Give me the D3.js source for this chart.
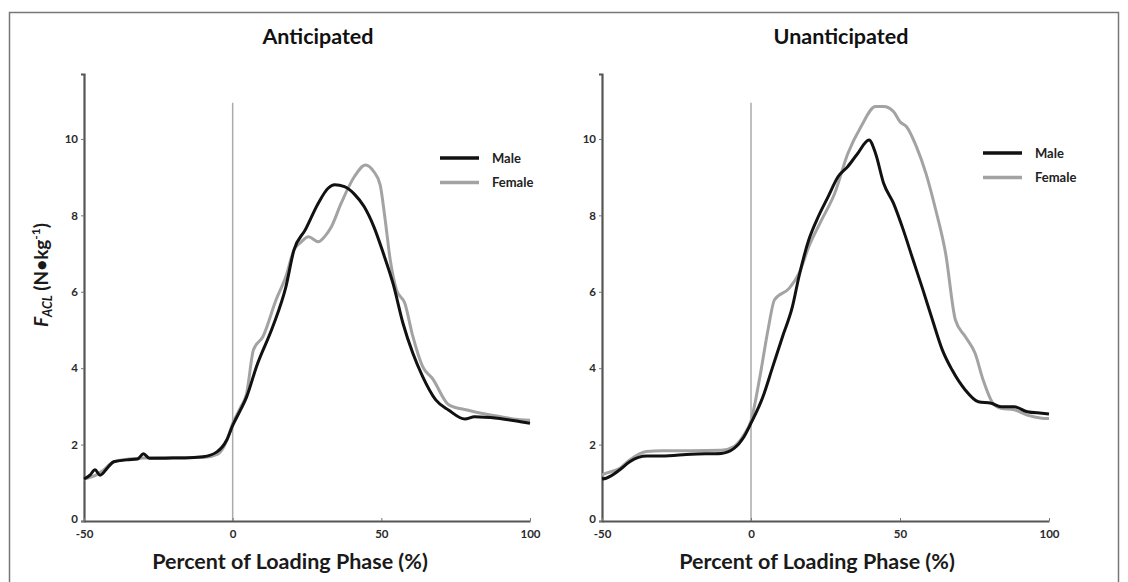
<!DOCTYPE html>
<html>
<head>
<meta charset="utf-8">
<script src="https://cdn.jsdelivr.net/npm/d3@7"></script>
<style>
  body { margin: 0; background: #fff; }
  text { font-family: Lato, "Open Sans", sans-serif; }
</style>
</head>
<body>
<div id="chart"></div>
<script>
// values (x = % of loading phase, y = N/kg)
const xTicks = [-50, 0, 50, 100];
const yTicks = [0, 2, 4, 6, 8, 10];
const panelTitles = ["Anticipated", "Unanticipated"];
const seriesNames = ["Male", "Female"];

const antMale = [[-50,1.1],[-48,1.2],[-46.3,1.34],[-44.6,1.2],[-42,1.4],[-40,1.55],[-35.6,1.6],[-32,1.62],[-30,1.76],[-28,1.64],[-25,1.64],[-20,1.65],[-16,1.65],[-10,1.68],[-5.3,1.81],[-2,2.12],[0,2.5],[2.6,2.9],[4.7,3.25],[8,4.04],[13.5,5.09],[17.9,6.13],[20.6,7.09],[24.4,7.62],[28.8,8.32],[32.1,8.71],[34.3,8.8],[37.6,8.75],[41,8.55],[44.2,8.23],[47.5,7.7],[50.7,7.0],[54,6.2],[57.3,5.17],[60.6,4.39],[63.9,3.78],[68.3,3.17],[72.7,2.9],[78.1,2.67],[81.4,2.73],[89,2.69],[96.8,2.6],[100,2.56]];
const antFemale = [[-50,1.1],[-46,1.2],[-44,1.3],[-40,1.55],[-35,1.62],[-30,1.65],[-20,1.66],[-10,1.66],[-5,1.75],[-2,2.1],[0,2.55],[2.5,2.95],[4.7,3.34],[7,4.48],[10.2,4.83],[14.6,5.79],[17.9,6.4],[20.6,7.09],[23,7.3],[25.5,7.44],[28.8,7.31],[31,7.45],[33.2,7.7],[36.5,8.32],[40.9,9.01],[44.7,9.32],[47.5,9.14],[49.6,8.8],[51.3,7.88],[53,6.83],[55.1,6.05],[57.9,5.7],[60.6,4.83],[63.9,4.04],[67.2,3.73],[72.7,3.04],[79.2,2.9],[83.6,2.82],[90.2,2.73],[96.8,2.65],[100,2.64]];
const unMale = [[-50,1.1],[-48.6,1.12],[-44,1.34],[-40.7,1.55],[-35,1.7],[-30,1.7],[-20,1.75],[-10,1.77],[-5.7,1.9],[-2.4,2.2],[0,2.56],[4,3.25],[7.3,4.04],[10.6,4.83],[13.9,5.61],[16.1,6.4],[19.4,7.36],[22.6,7.97],[25.9,8.49],[29.2,9.01],[32.5,9.28],[35.8,9.62],[39.6,9.97],[41.8,9.62],[44.5,8.84],[47.8,8.32],[51.1,7.62],[54.4,6.83],[57.7,6.05],[60.9,5.26],[64.2,4.48],[67.5,3.95],[71.9,3.43],[76.3,3.12],[80.6,3.08],[83.9,2.99],[88.3,2.99],[92.7,2.86],[97.6,2.82],[100,2.8]];
const unFemale = [[-50,1.2],[-48.6,1.25],[-44,1.38],[-40.7,1.6],[-35,1.82],[-30,1.84],[-20,1.84],[-10,1.85],[-5.7,1.95],[-2.4,2.25],[0,2.62],[3,3.78],[5.7,5.0],[7.9,5.79],[12.8,6.09],[16.1,6.48],[19.4,7.18],[23.7,7.88],[28.1,8.58],[32.5,9.62],[36.9,10.32],[41.8,10.85],[44.5,10.85],[47.8,10.72],[50,10.45],[52.2,10.32],[55.5,9.8],[58.7,9.1],[62,8.14],[65.3,7.01],[68.6,5.26],[71.9,4.83],[75.2,4.39],[77.9,3.69],[81.2,3.08],[83.9,2.95],[88.3,2.91],[92.7,2.77],[97.6,2.69],[100,2.68]];

const W = 1128, H = 582;
const colors = { Male: "#111", Female: "#a3a3a3" };

const svg = d3.select("#chart").append("svg")
    .attr("width", W)
    .attr("height", H);

// outer frame
svg.append("rect")
    .attr("x", 9.5).attr("y", 12.5)
    .attr("width", 1109).attr("height", 600)
    .attr("fill", "none")
    .attr("stroke", "#777")
    .attr("stroke-width", 1.5);

const panels = [
    { title: panelTitles[0], left: 84, right: 530, titleX: 318, labelX: 290, legX: 440, legY: 158, data: [antMale, antFemale] },
    { title: panelTitles[1], left: 602, right: 1049, titleX: 841, labelX: 817, legX: 983, legY: 153, data: [unMale, unFemale] }
];

const y = d3.scaleLinear().domain([0, 11.7]).range([521, 74]);
const plain = d => String(d); // hyphen minus like the source

panels.forEach(p => {
    const g = svg.append("g");
    const x = d3.scaleLinear().domain([-50, 100]).range([p.left, p.right]);

    // zero line (start of loading phase)
    g.append("line")
        .attr("x1", x(0)).attr("x2", x(0))
        .attr("y1", y(0)).attr("y2", y(10.95))
        .attr("stroke", "#aaa")
        .attr("stroke-width", 1.5);

    const yAxis = g.append("g")
        .attr("transform", `translate(${x(-50)},0)`)
        .call(d3.axisLeft(y).tickValues(yTicks).tickFormat(plain).tickSize(3).tickPadding(3));

    const xAxis = g.append("g")
        .attr("transform", `translate(0,${y(0)})`)
        .call(d3.axisBottom(x).tickValues(xTicks).tickFormat(plain).tickSizeInner(-3).tickSizeOuter(0).tickPadding(9));

    [yAxis, xAxis].forEach(a => {
        a.select(".domain").attr("stroke", "#555").attr("stroke-width", 2.2);
        a.selectAll(".tick line").attr("stroke", "#777");
        a.selectAll(".tick text")
            .attr("font-family", "Lato, sans-serif")
            .attr("font-size", 11.5)
            .attr("font-weight", "bold")
            .attr("fill", "#2a2a2a");
    });
    yAxis.selectAll(".tick").filter(d => d === 0).select("text").attr("dy", "0.1em");

    const line = d3.line()
        .x(d => x(d[0]))
        .y(d => y(d[1]))
        .curve(d3.curveMonotoneX);

    // female drawn first so male sits on top
    [1, 0].forEach(i => {
        g.append("path")
            .datum(p.data[i])
            .attr("d", line)
            .attr("fill", "none")
            .attr("stroke", colors[seriesNames[i]])
            .attr("stroke-width", 3)
            .attr("stroke-linejoin", "round");
    });

    // title
    g.append("text")
        .attr("x", p.titleX).attr("y", 44)
        .attr("text-anchor", "middle")
        .attr("font-size", 21.5)
        .attr("font-weight", "bold")
        .attr("fill", "#111")
        .text(p.title);

    // x label
    g.append("text")
        .attr("x", p.labelX).attr("y", 569)
        .attr("text-anchor", "middle")
        .attr("font-size", 21.5)
        .attr("font-weight", "bold")
        .attr("fill", "#1a1a1a")
        .text("Percent of Loading Phase (%)");

    // legend
    seriesNames.forEach((name, i) => {
        const ly = p.legY + i * 24.5;
        g.append("line")
            .attr("x1", p.legX).attr("x2", p.legX + 39)
            .attr("y1", ly).attr("y2", ly)
            .attr("stroke", colors[name])
            .attr("stroke-width", 3.5);
        g.append("text")
            .attr("x", p.legX + 52).attr("y", ly + 4.5)
            .attr("font-size", 13)
            .attr("font-weight", "bold")
            .attr("fill", "#222")
            .text(name);
    });
});

// y label: F_ACL (N•kg^-1)
const yl = svg.append("text")
    .attr("transform", "translate(48,275) rotate(-90)")
    .attr("text-anchor", "middle")
    .attr("font-size", 19)
    .attr("font-weight", "bold")
    .attr("fill", "#1a1a1a");
yl.append("tspan").attr("font-style", "italic").text("F");
yl.append("tspan").attr("font-style", "italic").attr("font-size", 12.5).attr("dy", 4).text("ACL");
yl.append("tspan").attr("dy", -4).text(" (N\u2022kg");
yl.append("tspan").attr("font-size", 12).attr("dy", -8).text("-1");
yl.append("tspan").attr("dy", 8).text(")");
</script>
</body>
</html>
